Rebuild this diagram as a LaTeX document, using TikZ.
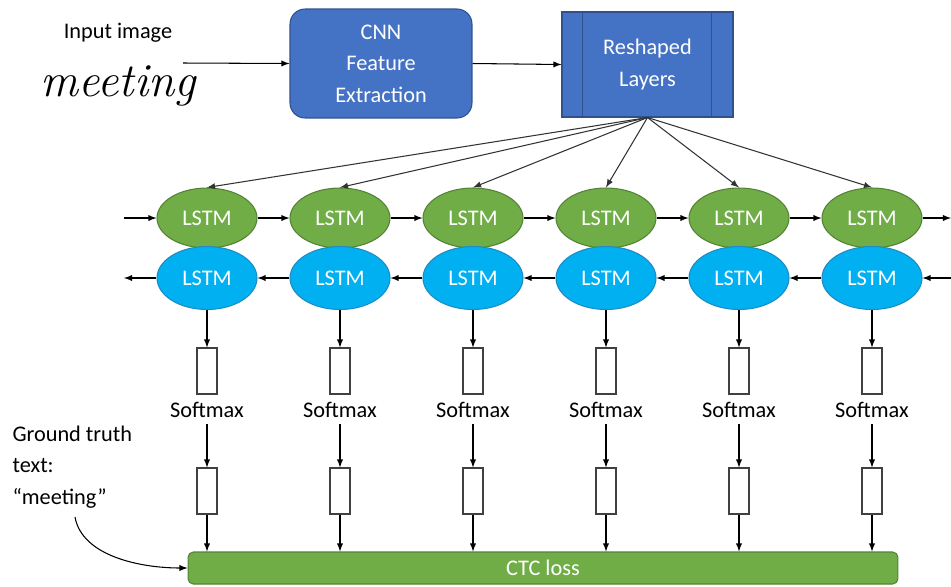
\documentclass[tikz,border=0pt]{standalone}
\usepackage{fontspec}
\newfontfamily\calib{Carlito}
\usepackage{tikz}
\usetikzlibrary{shapes.geometric}

\definecolor{cnnblue}{HTML}{4472C4}
\definecolor{cnnedge}{HTML}{2F528F}
\definecolor{lstmgreen}{HTML}{70AD47}
\definecolor{greenedge}{HTML}{548235}
\definecolor{lstmcyan}{HTML}{00B0F0}
\definecolor{cyanedge}{HTML}{1E8BC3}

\tikzset{
  lbl/.style={font=\calib\fontsize{12.7}{18}\selectfont},
  fwdcell/.style={lbl,shape=ellipse,draw=greenedge,fill=lstmgreen,text=white,minimum width=2cm,minimum height=1.2cm,inner sep=0pt},
  bwdcell/.style={lbl,shape=ellipse,draw=cyanedge,fill=lstmcyan,text=white,minimum width=2cm,minimum height=1.26cm,inner sep=0pt},
  vecbox/.style={draw=black!75,fill=white,minimum width=0.4cm,minimum height=0.92cm,inner sep=0pt},
}

\begin{document}
\begin{tikzpicture}[x=0.02cm,y=-0.02cm,line width=0.6pt]
\useasboundingbox (0,0) rectangle (951,586);

\node (inlabel) [lbl] at (118,33) {Input image};
\node (inword) [font=\fontsize{27}{27}\selectfont\itshape] at (118,86) {meeting};
\coordinate (infoot) at (183,63);

\node (cnn) [lbl,draw=cnnedge,fill=cnnblue,text=white,rounded corners=0.3cm,align=center,minimum width=3.64cm,minimum height=2.18cm] at (381,63.5) {CNN\\Feature\\Extraction};
\node (reshaped) [lbl,draw=cnnedge,fill=cnnblue,text=white,align=center,minimum width=3.42cm,minimum height=2.1cm] at (647.5,64.5) {Reshaped\\Layers};
\draw[cnnedge] ([xshift=0.42cm]reshaped.north west) -- ([xshift=0.42cm]reshaped.south west);
\draw[cnnedge] ([xshift=-0.44cm]reshaped.north east) -- ([xshift=-0.44cm]reshaped.south east);

\draw[-latex] (infoot) -- (cnn.west);
\draw[-latex] (cnn.east) -- (reshaped.west);

\node (ctc) [lbl,draw=greenedge,fill=lstmgreen,text=white,rounded corners=3pt,minimum width=14.2cm,minimum height=0.64cm,inner sep=0pt] at (543,568) {CTC loss};

% one column per time step
\foreach \i in {1,...,6} {
  \node (f\i) [fwdcell] at ({207+133*(\i-1)},218) {LSTM};
  \node (b\i) [bwdcell] at ({207+133*(\i-1)},278) {LSTM};
  \node (p\i) [vecbox] at ({207+133*(\i-1)},371) {};
  \node (sm\i) [lbl] at ({207+133*(\i-1)},410) {Softmax};
  \node (q\i) [vecbox] at ({207+133*(\i-1)},491) {};
  \draw[-latex,black!80] (reshaped.south) -- (f\i.north);
  \draw[-latex] (b\i.south) -- (p\i.north);
  \draw[-latex] (sm\i.south) -- (q\i.north);
  \draw[-latex] (q\i.south) -- (q\i.south |- ctc.north);
}

\foreach \i/\j in {1/2,2/3,3/4,4/5,5/6} {
  \draw[-latex] (f\i.east) -- (f\j.west);
  \draw[-latex] (b\j.west) -- (b\i.east);
}

\coordinate (fwdin) at (124,218);
\coordinate (fwdout) at (951,218);
\coordinate (bwdout) at (124,278);
\coordinate (bwdin) at (951,278);
\draw[-latex] (fwdin) -- (f1.west);
\draw[-latex] (f6.east) -- (fwdout);
\draw[-latex] (b1.west) -- (bwdout);
\draw[-latex] (bwdin) -- (b6.east);

\node (gt) [lbl,align=left,anchor=north west,inner sep=0pt] at (12,425) {Ground truth\\text:\\\char"201C meeting\char"201D};
\coordinate (gtfoot) at (75,517);
\draw[-latex] (gtfoot) .. controls (82,556) and (140,568) .. (ctc.west);

\end{tikzpicture}
\end{document}
